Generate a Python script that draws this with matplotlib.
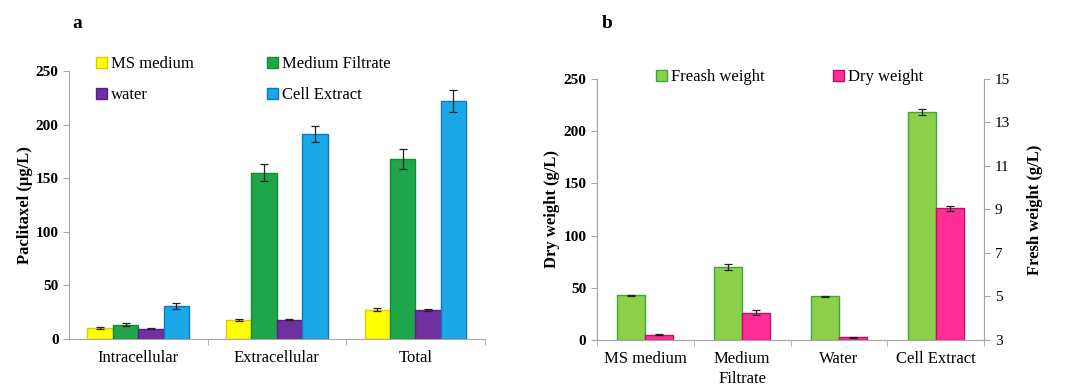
import matplotlib.pyplot as plt
import numpy as np

plt.rcParams['font.family'] = ['Liberation Serif', 'DejaVu Serif']

# panel a data
groups_a = ['Intracellular', 'Extracellular', 'Total']
series_a = ['MS medium', 'Medium Filtrate', 'water', 'Cell Extract']
ms_medium = [10, 18, 27.5]
ms_medium_err = [1.0, 1.0, 1.8]
medium_filtrate = [13.5, 155, 168]
medium_filtrate_err = [1.8, 8, 9]
water = [9.5, 18, 27]
water_err = [0.5, 0.4, 0.6]
cell_extract = [30.5, 191, 222]
cell_extract_err = [2.7, 7.5, 10]

# panel b data
groups_b = ['MS medium', 'Medium\nFiltrate', 'Water', 'Cell Extract']
fresh_weight = [5.05, 6.35, 5.0, 13.5]
fresh_weight_err = [0.03, 0.13, 0.03, 0.14]
dry_weight = [5.0, 26, 2.5, 126]
dry_weight_err = [0.4, 2.5, 0.3, 2.5]

colors_a = ['#FFFF00', '#1FA64A', '#7030A0', '#1BA8E8']
edges_a = ['#D9CC00', '#128A38', '#552088', '#0F78C0']
axis_col = '#A6A6A6'

fig = plt.figure(figsize=(10.77, 3.89), dpi=100)

# ---- panel a ----
ax = fig.add_axes([0.064, 0.1285, 0.386, 0.689])
x = np.arange(len(groups_a))
w = 0.183
vals = [ms_medium, medium_filtrate, water, cell_extract]
errs = [ms_medium_err, medium_filtrate_err, water_err, cell_extract_err]
handles = []
for i in range(4):
    b = ax.bar(x + (i - 1.5) * w, vals[i], w, color=colors_a[i], edgecolor=edges_a[i],
               linewidth=1.0, label=series_a[i])
    ax.errorbar(x + (i - 1.5) * w, vals[i], yerr=errs[i], fmt='none', ecolor='#222222',
                elinewidth=0.9, capsize=3, capthick=0.9)
    handles.append(b)
ax.set_xlim(-0.5, 2.5)
ax.set_ylim(0, 250)
ax.set_yticks([0, 50, 100, 150, 200, 250])
ax.set_xticks(x)
ax.set_xticklabels(groups_a, fontsize=12)
ax.set_xticks([0.5, 1.5, 2.5], minor=True)
ax.tick_params(axis='x', which='major', length=0, pad=8)
ax.tick_params(axis='x', which='minor', length=4, color=axis_col)
ax.tick_params(axis='y', length=4, color=axis_col, labelsize=11)
for lab in ax.get_yticklabels():
    lab.set_fontweight('bold')
for s in ['top', 'right']:
    ax.spines[s].set_visible(False)
for s in ['left', 'bottom']:
    ax.spines[s].set_color(axis_col)
ax.set_ylabel('Paclitaxel (µg/L)', fontsize=12, fontweight='bold', labelpad=2)
ax.legend(handles=[handles[0], handles[2], handles[1], handles[3]],
          labels=[series_a[0], series_a[2], series_a[1], series_a[3]],
          ncol=2, loc='upper left', bbox_to_anchor=(0.048, 1.08), frameon=False,
          fontsize=12, handlelength=0.7, handleheight=0.7, handletextpad=0.2,
          columnspacing=4.4, labelspacing=0.9, borderaxespad=0)
fig.text(0.067, 0.94, 'a', fontsize=14, fontweight='bold', va='center')

# ---- panel b ----
axb = fig.add_axes([0.554, 0.126, 0.36, 0.671])
axr = axb.twinx()
xb = np.arange(len(groups_b))
wb = 0.29
fb = axr.bar(xb - wb / 2, np.array(fresh_weight) - 3, wb, bottom=3, color='#8CD04A',
             edgecolor='#3CA83C', linewidth=1.0, label='Freash weight')
axr.errorbar(xb - wb / 2, fresh_weight, yerr=fresh_weight_err, fmt='none', ecolor='#222222',
             elinewidth=0.9, capsize=3, capthick=0.9)
db = axb.bar(xb + wb / 2, dry_weight, wb, color='#FF2D96', edgecolor='#C0106A',
             linewidth=1.0, label='Dry weight')
axb.errorbar(xb + wb / 2, dry_weight, yerr=dry_weight_err, fmt='none', ecolor='#222222',
             elinewidth=0.9, capsize=3, capthick=0.9)
axb.set_zorder(axr.get_zorder() + 1)
axb.patch.set_visible(False)
axb.set_xlim(-0.5, 3.5)
axb.set_ylim(0, 250)
axr.set_ylim(3, 15)
axb.set_yticks([0, 50, 100, 150, 200, 250])
axr.set_yticks([3, 5, 7, 9, 11, 13, 15])
axb.set_xticks(xb)
axb.set_xticklabels(groups_b, fontsize=12, linespacing=1.3)
axb.set_xticks([-0.5, 0.5, 1.5, 2.5, 3.5], minor=True)
axb.tick_params(axis='x', which='major', length=0, pad=8)
axb.tick_params(axis='x', which='minor', length=4, color=axis_col)
axb.tick_params(axis='y', length=4, color=axis_col, labelsize=11)
axr.tick_params(axis='y', length=4, color=axis_col, labelsize=11)
for lab in axb.get_yticklabels():
    lab.set_fontweight('bold')
for a in [axb, axr]:
    a.spines['top'].set_visible(False)
    for s in ['left', 'bottom', 'right']:
        a.spines[s].set_color(axis_col)
axb.set_ylabel('Dry weight (g/L)', fontsize=12, fontweight='bold', labelpad=2)
axr.set_ylabel('Fresh weight (g/L)', fontsize=12, fontweight='bold', labelpad=12)
axb.legend(handles=[fb, db], ncol=2, loc='lower left', bbox_to_anchor=(0.135, 0.95),
           frameon=False, fontsize=12, handlelength=0.7, handleheight=0.7,
           handletextpad=0.2, columnspacing=4.1, borderaxespad=0)
fig.text(0.559, 0.94, 'b', fontsize=14, fontweight='bold', va='center')

plt.savefig('out.png', dpi=100)
plt.close()
